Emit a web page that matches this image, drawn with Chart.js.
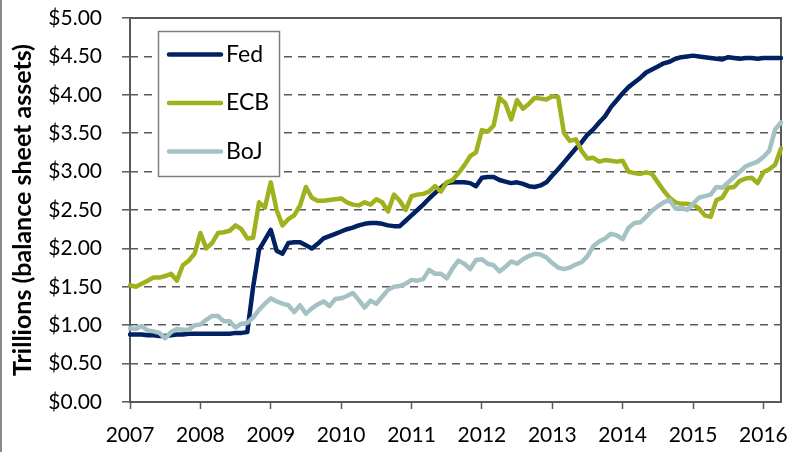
<!DOCTYPE html>
<html lang="en">
<head>
    <meta charset="UTF-8">
    <title>Central bank balance sheets</title>
    <style>
        body {
            margin: 0;
            background: #ffffff;
        }
        .frame {
            position: relative;
            width: 795px;
            height: 452px;
        }
        .frame::before {
            content: "";
            position: absolute;
            left: 0;
            top: 0;
            width: 2px;
            height: 452px;
            background: #8a8a8a;
        }
        canvas {
            display: block;
        }
    </style>
    <script src="https://cdn.jsdelivr.net/npm/chart.js"></script>
</head>
<body>
    <div class="frame">
        <canvas id="bsCanvas" width="795" height="452"></canvas>
    </div>

    <script>
        // monthly values, Jan 2007 .. Apr 2016 (trillions USD)
        const years = [2007, 2008, 2009, 2010, 2011, 2012, 2013, 2014, 2015, 2016];
        const lastYearMonths = 4;

        const fed = [
            0.88, 0.88, 0.88, 0.87, 0.87, 0.86, 0.86, 0.87, 0.88, 0.88, 0.89, 0.89,
            0.89, 0.89, 0.89, 0.89, 0.89, 0.89, 0.90, 0.90, 0.91, 1.50, 1.98, 2.11,
            2.24, 1.97, 1.93, 2.07, 2.08, 2.08, 2.04, 2.00, 2.06, 2.13, 2.16, 2.19,
            2.22, 2.25, 2.27, 2.30, 2.32, 2.33, 2.33, 2.32, 2.30, 2.29, 2.29, 2.36,
            2.43, 2.50, 2.57, 2.65, 2.72, 2.79, 2.85, 2.86, 2.86, 2.86, 2.85, 2.81,
            2.92, 2.93, 2.93, 2.89, 2.87, 2.85, 2.86, 2.84, 2.81, 2.80, 2.82, 2.86,
            2.95, 3.03, 3.12, 3.21, 3.30, 3.38, 3.48, 3.55, 3.64, 3.72, 3.84, 3.93,
            4.02, 4.10, 4.16, 4.22, 4.29, 4.33, 4.37, 4.41, 4.43, 4.47, 4.49, 4.50,
            4.51, 4.50, 4.49, 4.48, 4.47, 4.46, 4.49, 4.48, 4.47, 4.48, 4.48, 4.47,
            4.48, 4.48, 4.48, 4.48
        ];
        const ecb = [
            1.52, 1.50, 1.54, 1.58, 1.62, 1.62, 1.64, 1.67, 1.58, 1.78, 1.84, 1.93,
            2.20, 2.00, 2.07, 2.20, 2.21, 2.23, 2.30, 2.25, 2.13, 2.14, 2.60, 2.53,
            2.86, 2.50, 2.30, 2.38, 2.43, 2.56, 2.80, 2.66, 2.62, 2.62, 2.63, 2.64,
            2.65, 2.60, 2.57, 2.56, 2.60, 2.57, 2.64, 2.60, 2.48, 2.70, 2.62, 2.50,
            2.68, 2.70, 2.71, 2.74, 2.81, 2.74, 2.86, 2.89, 2.98, 3.08, 3.20, 3.25,
            3.54, 3.52, 3.60, 3.96, 3.89, 3.68, 3.93, 3.82, 3.88, 3.96, 3.95, 3.94,
            3.98, 3.97, 3.50, 3.40, 3.42, 3.27, 3.17, 3.18, 3.13, 3.15, 3.14, 3.13,
            3.14, 3.00, 2.98, 2.97, 2.99, 2.97, 2.86, 2.75, 2.66, 2.60, 2.58, 2.58,
            2.57, 2.52, 2.43, 2.41, 2.63, 2.66, 2.79, 2.80, 2.88, 2.91, 2.92, 2.85,
            2.99, 3.03, 3.09, 3.30
        ];
        const boj = [
            0.96, 0.95, 0.99, 0.93, 0.92, 0.90, 0.83, 0.91, 0.95, 0.94, 0.94, 1.00,
            1.01, 1.07, 1.12, 1.12, 1.05, 1.05, 0.97, 1.02, 1.03, 1.10, 1.20, 1.28,
            1.35, 1.31, 1.28, 1.26, 1.17, 1.26, 1.15, 1.22, 1.27, 1.31, 1.25, 1.34,
            1.35, 1.38, 1.42, 1.33, 1.23, 1.32, 1.28, 1.37, 1.46, 1.50, 1.51, 1.54,
            1.59, 1.58, 1.60, 1.72, 1.67, 1.67, 1.61, 1.74, 1.84, 1.80, 1.73, 1.85,
            1.86, 1.80, 1.78, 1.70, 1.76, 1.83, 1.80, 1.86, 1.90, 1.93, 1.92, 1.88,
            1.81, 1.75, 1.73, 1.75, 1.79, 1.82, 1.90, 2.03, 2.09, 2.13, 2.19, 2.17,
            2.12, 2.27, 2.33, 2.34, 2.41, 2.49, 2.55, 2.60, 2.63, 2.52, 2.53, 2.50,
            2.58, 2.66, 2.68, 2.70, 2.80, 2.79, 2.86, 2.93, 3.00, 3.07, 3.10, 3.13,
            3.19, 3.27, 3.55, 3.64
        ];

        const seriesNames = ['Fed', 'ECB', 'BoJ'];
        const seriesColors = ['#022163', '#a0b11e', '#a4c1c4'];

        // month labels, e.g. "2007-01"
        const meses = [];
        years.forEach((y, k) => {
            const n = k === years.length - 1 ? lastYearMonths : 12;
            for (let m = 1; m <= n; m++) {
                meses.push(y + '-' + String(m).padStart(2, '0'));
            }
        });

        const fontName = 'Lato, "Open Sans", sans-serif';
        const gridGray = '#595959';

        // plot frame (drawn over the dashed grid, under the lines)
        const framePlugin = {
            id: 'frame',
            beforeDatasetsDraw(chart) {
                const a = chart.chartArea;
                const c = chart.ctx;
                c.save();
                c.strokeStyle = gridGray;
                c.lineWidth = 2;
                c.strokeRect(a.left, a.top, a.right - a.left, a.bottom - a.top);
                c.restore();
            }
        };

        // legend box in the top-left of the plot
        const legendBox = {
            id: 'legendBox',
            afterDraw(chart) {
                const c = chart.ctx;
                c.save();
                c.fillStyle = '#ffffff';
                c.fillRect(158.5, 31.5, 121, 145);
                c.strokeStyle = '#7f7f7f';
                c.lineWidth = 1.5;
                c.strokeRect(158.5, 31.5, 121, 145);
                chart.data.datasets.forEach((ds, i) => {
                    const y = 54.5 + i * 48.5;
                    c.strokeStyle = ds.borderColor;
                    c.lineWidth = 4.5;
                    c.lineCap = 'round';
                    c.beginPath();
                    c.moveTo(169, y);
                    c.lineTo(221, y);
                    c.stroke();
                    c.fillStyle = '#000000';
                    c.font = '23px ' + fontName;
                    c.textBaseline = 'middle';
                    c.fillText(ds.label, 226, y);
                });
                c.restore();
            }
        };

        const ctx = document.getElementById('bsCanvas').getContext('2d');
        const valores = [fed, ecb, boj];

        new Chart(ctx, {
            type: 'line',
            data: {
                labels: meses,
                datasets: seriesNames.map((name, i) => ({
                    label: name,
                    data: valores[i],
                    borderColor: seriesColors[i],
                    backgroundColor: seriesColors[i],
                    borderWidth: 4.5,
                    pointRadius: 0,
                    tension: 0,
                    borderJoinStyle: 'round',
                    borderCapStyle: 'round',
                    order: 3 - i
                }))
            },
            options: {
                responsive: false,
                animation: false,
                layout: {
                    padding: { top: 18, right: 12, left: 0, bottom: 0 }
                },
                plugins: {
                    legend: { display: false },
                    tooltip: { enabled: false }
                },
                scales: {
                    x: {
                        type: 'category',
                        offset: false,
                        afterFit(scale) { scale.height = 50; },
                        border: { display: false },
                        grid: {
                            drawOnChartArea: false,
                            drawTicks: true,
                            tickLength: 7,
                            tickWidth: 1.5,
                            tickColor: (c) => c.index % 12 === 0 ? gridGray : 'rgba(0,0,0,0)'
                        },
                        ticks: {
                            autoSkip: false,
                            maxRotation: 0,
                            padding: 14,
                            color: '#000000',
                            font: { family: fontName, size: 21 },
                            callback: (v, i) => i % 12 === 0 ? meses[i].slice(0, 4) : ''
                        }
                    },
                    y: {
                        min: 0,
                        max: 5,
                        afterFit(scale) {
                            scale.width = 130;
                            // the label padding should not push the plot down
                            scale.paddingTop = 0;
                            scale.paddingBottom = 0;
                        },
                        border: { display: false, dash: [8, 6] },
                        grid: {
                            color: gridGray,
                            lineWidth: 1.6,
                            tickLength: 8,
                            tickWidth: 1.5,
                            tickColor: gridGray,
                            tickBorderDash: []
                        },
                        ticks: {
                            stepSize: 0.5,
                            padding: 20,
                            color: '#000000',
                            font: { family: fontName, size: 21 },
                            callback: (v) => '$' + Number(v).toFixed(2)
                        },
                        title: {
                            display: true,
                            text: 'Trillions (balance sheet assets)',
                            color: '#000000',
                            font: { family: fontName, size: 25, weight: 'bold' },
                            padding: { top: 8, bottom: 0 }
                        }
                    }
                }
            },
            plugins: [framePlugin, legendBox]
        });
    </script>
</body>
</html>
